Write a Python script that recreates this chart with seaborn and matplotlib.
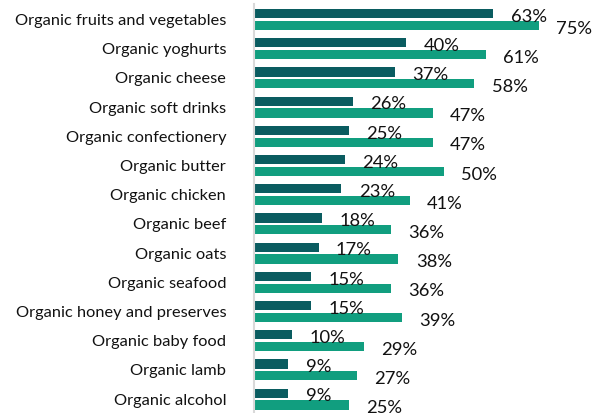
import matplotlib
matplotlib.use("Agg")
import matplotlib.pyplot as plt
import seaborn as sns
import pandas as pd

categories = [
    "Organic fruits and vegetables",
    "Organic yoghurts",
    "Organic cheese",
    "Organic soft drinks",
    "Organic confectionery",
    "Organic butter",
    "Organic chicken",
    "Organic beef",
    "Organic oats",
    "Organic seafood",
    "Organic honey and preserves",
    "Organic baby food",
    "Organic lamb",
    "Organic alcohol",
]
series_names = ["Group 1", "Group 2"]
group1_values = [63, 40, 37, 26, 25, 24, 23, 18, 17, 15, 15, 10, 9, 9]
group2_values = [75, 61, 58, 47, 47, 50, 41, 36, 38, 36, 39, 29, 27, 25]
palette = ["#0a5c60", "#119e7f"]

df = pd.DataFrame({
    "category": categories * 2,
    "value": group1_values + group2_values,
    "series": [series_names[0]] * len(categories) + [series_names[1]] * len(categories),
})

sns.set_theme(style="white")
plt.rcParams["font.family"] = ["Lato", "DejaVu Sans"]

W, H = 597, 413
fig = plt.figure(figsize=(W / 100, H / 100), dpi=100)
left_px, top_px, bottom_px = 254, 4, 415.7
ax = fig.add_axes([left_px / W, (H - bottom_px) / H, (W - left_px) / W, (bottom_px - top_px) / H])

sns.barplot(
    data=df, y="category", x="value", hue="series", orient="h",
    palette=palette, width=0.807, gap=0.215, legend=False, ax=ax,
    saturation=1, edgecolor="none", linewidth=0,
)

ax.set_xlim(0, (W - left_px) / 3.8)
ax.set_ylim(len(categories) - 0.5 + 0.07, -0.53)
ax.set_xlabel("")
ax.set_ylabel("")
ax.set_xticks([])
ax.tick_params(axis="y", length=0, pad=20, labelsize=11.8, labelcolor="#111111")
for side in ["top", "right", "bottom"]:
    ax.spines[side].set_visible(False)
ax.spines["left"].set_color("#d9d9d9")
ax.spines["left"].set_linewidth(1.5)

values_by_series = [group1_values, group2_values]
for container, vals in zip(ax.containers, values_by_series):
    for patch, v in zip(container.patches, vals):
        y = patch.get_y() + patch.get_height() / 2
        ax.annotate(
            f"{v}%", xy=(patch.get_width(), y), xytext=(12.5, -1.2),
            textcoords="offset points", ha="left", va="center_baseline",
            fontsize=13.2, color="#111111", annotation_clip=False,
        )

fig.savefig("out.png", dpi=100)
